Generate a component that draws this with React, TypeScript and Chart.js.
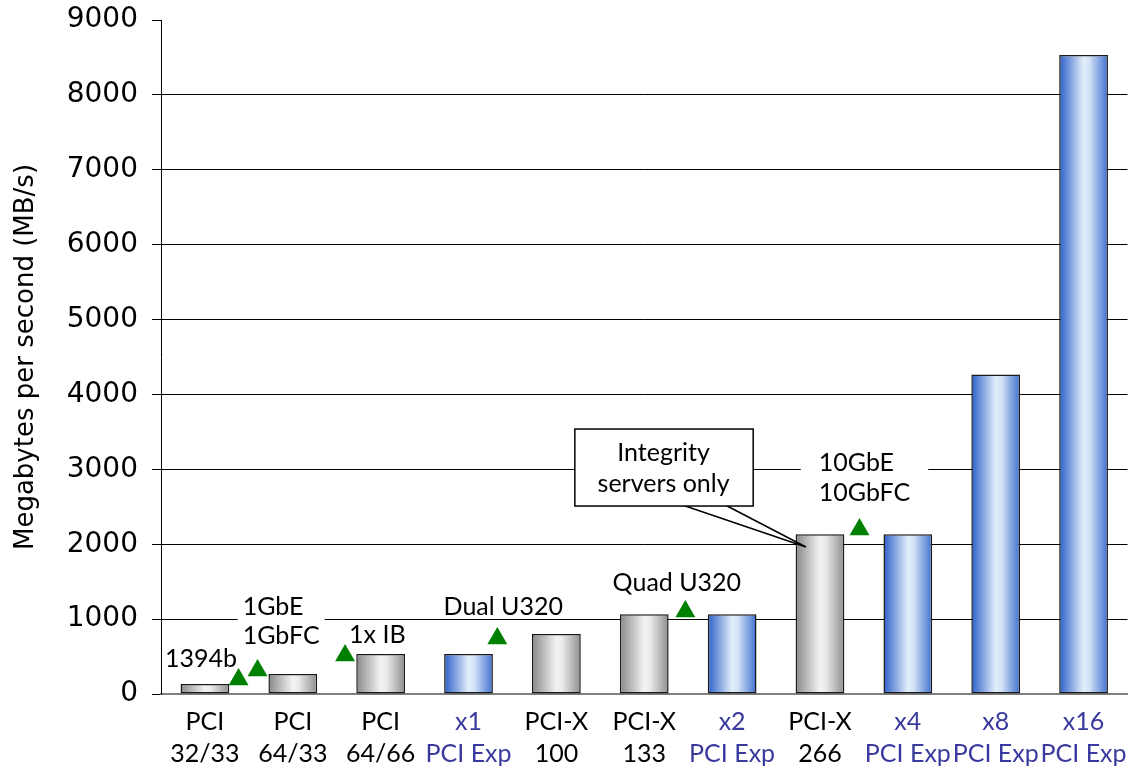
import { useEffect, useRef } from 'react';
import { Chart, registerables } from 'chart.js';

Chart.register(...registerables);

// ---- data ----
const categories: string[][] = [
  ['PCI', '32/33'], ['PCI', '64/33'], ['PCI', '64/66'], ['x1', 'PCI Exp'],
  ['PCI-X', '100'], ['PCI-X', '133'], ['x2', 'PCI Exp'], ['PCI-X', '266'],
  ['x4', 'PCI Exp'], ['x8', 'PCI Exp'], ['x16', 'PCI Exp'],
];
const bandwidth = [133, 266, 533, 533, 800, 1066, 1066, 2133, 2133, 4266, 8533];
const busType = ['pci', 'pci', 'pci', 'pcie', 'pci', 'pci', 'pcie', 'pci', 'pcie', 'pcie', 'pcie'];
const yMin = 0;
const yMax = 9000;
const yStep = 1000;
const yTitle = 'Megabytes per second (MB/s)';

// device requirement markers (x in category units, y in MB/s)
const markerX = [0.383, 0.599, 1.595, 3.328, 5.468, 7.45];
const markerY = [194, 314, 514, 741, 1101, 2196];

// device labels
const labelText = [['1394b'], ['1GbE', '1GbFC'], ['1x IB'], ['Dual U320'], ['Quad U320'], ['10GbE', '10GbFC']];
const labelX = [-0.455, 0.429, 1.64, 2.716, 4.64, 6.986];
const labelY = [[467], [1162, 774], [788], [1162], [1482], [3084, 2684]];
const labelBgPad = [0, 5, 0, 0, 0, 18];

// callout
const calloutText = ['Integrity', 'servers only'];
const calloutBoxX = [4.21, 6.24];
const calloutBoxY = [3538, 2510];
const calloutTextX = 5.22;
const calloutTextY = [3218, 2804];
const calloutBaseX = [5.4, 5.9];
const calloutTip = [6.84, 1963];

// ---- styles ----
const FONT_FAMILY = 'Lato, "Noto Sans", sans-serif';
const WIDE_FONT = '"DejaVu Sans", Lato, sans-serif';
const BLUE_TEXT = '#3a3a9e';
const BAR_PCT = 0.555;

function barFill(c: any) {
  const chart = c.chart;
  const xs = chart.scales?.x;
  const type = busType[c.dataIndex];
  const fallback = type === 'pcie' ? '#8fb0e6' : '#cccccc';
  if (!xs || c.type !== 'data') return fallback;
  const cx = xs.getPixelForValue(c.dataIndex);
  const w = (xs.getPixelForValue(1) - xs.getPixelForValue(0)) * BAR_PCT;
  if (!isFinite(cx) || !isFinite(w) || w <= 0) return fallback;
  const g = chart.ctx.createLinearGradient(cx - w / 2, 0, cx + w / 2, 0);
  if (type === 'pcie') {
    g.addColorStop(0, '#2b5fc8');
    g.addColorStop(0.5, '#e3eefa');
    g.addColorStop(0.62, '#d3e2f6');
    g.addColorStop(1, '#3f70cf');
  } else {
    g.addColorStop(0, '#888888');
    g.addColorStop(0.5, '#f3f3f3');
    g.addColorStop(0.62, '#eaeaea');
    g.addColorStop(1, '#8e8e8e');
  }
  return g;
}

const annotationPlugin = {
  id: 'annotations',
  beforeDatasetsDraw(chart: any) {
    const { ctx, scales } = chart;
    const xs = scales.x, ys = scales.y;
    ctx.save();
    ctx.font = `25px ${FONT_FAMILY}`;
    labelText.forEach((lines, i) => {
      const pad = labelBgPad[i];
      if (!pad) return;
      const left = xs.getPixelForValue(labelX[i]);
      const w = Math.max(...lines.map((t) => ctx.measureText(t).width));
      const top = ys.getPixelForValue(labelY[i][0]) - 16;
      const bottom = ys.getPixelForValue(labelY[i][lines.length - 1]) + 16;
      ctx.fillStyle = '#ffffff';
      ctx.fillRect(left - pad, top, w + pad * 2, bottom - top);
    });
    ctx.restore();
  },
  afterDatasetsDraw(chart: any) {
    const { ctx, scales } = chart;
    const xs = scales.x, ys = scales.y;
    ctx.save();
    ctx.font = `25px ${FONT_FAMILY}`;
    ctx.fillStyle = '#000';
    ctx.textBaseline = 'middle';
    ctx.textAlign = 'left';
    labelText.forEach((lines, i) => {
      const left = xs.getPixelForValue(labelX[i]);
      lines.forEach((t, j) => ctx.fillText(t, left, ys.getPixelForValue(labelY[i][j])));
    });

    // callout pointer
    const b0 = xs.getPixelForValue(calloutBaseX[0]);
    const b1 = xs.getPixelForValue(calloutBaseX[1]);
    const by = ys.getPixelForValue(calloutBoxY[1]) - 2;
    const tx = xs.getPixelForValue(calloutTip[0]);
    const ty = ys.getPixelForValue(calloutTip[1]);
    ctx.beginPath();
    ctx.moveTo(b0, by);
    ctx.lineTo(tx, ty);
    ctx.lineTo(b1, by);
    ctx.closePath();
    ctx.fillStyle = '#ffffff';
    ctx.fill();
    ctx.beginPath();
    ctx.moveTo(b0, by);
    ctx.lineTo(tx, ty);
    ctx.lineTo(b1, by);
    ctx.strokeStyle = '#000';
    ctx.lineWidth = 1.5;
    ctx.stroke();

    // callout box
    const x0 = xs.getPixelForValue(calloutBoxX[0]);
    const x1 = xs.getPixelForValue(calloutBoxX[1]);
    const y0 = ys.getPixelForValue(calloutBoxY[0]);
    const y1 = ys.getPixelForValue(calloutBoxY[1]);
    ctx.fillStyle = '#ffffff';
    ctx.fillRect(x0, y0, x1 - x0, y1 - y0);
    ctx.lineWidth = 1.5;
    ctx.strokeRect(x0, y0, x1 - x0, y1 - y0);
    ctx.fillStyle = '#000';
    ctx.textAlign = 'center';
    const cx = xs.getPixelForValue(calloutTextX);
    calloutText.forEach((t, j) => ctx.fillText(t, cx, ys.getPixelForValue(calloutTextY[j])));
    ctx.restore();
  },
};

export default function App() {
  const ref = useRef<HTMLCanvasElement>(null);
  useEffect(() => {
    if (!ref.current) return;
    const chart = new Chart(ref.current, {
      type: 'bar',
      data: {
        labels: categories,
        datasets: [
          {
            type: 'bar',
            data: bandwidth,
            backgroundColor: barFill,
            borderColor: '#1a1a1a',
            borderWidth: 1.5,
            borderSkipped: false,
            barPercentage: BAR_PCT,
            categoryPercentage: 1,
            grouped: false,
            order: 2,
          } as any,
          {
            type: 'scatter',
            xAxisID: 'xm',
            data: markerX.map((x, i) => ({ x, y: markerY[i] })),
            pointStyle: 'triangle',
            radius: 11.5,
            backgroundColor: '#008000',
            borderColor: '#008000',
            borderWidth: 0,
            grouped: false,
            order: 1,
          } as any,
        ],
      },
      options: {
        animation: false,
        responsive: false,
        devicePixelRatio: 1,
        layout: { padding: { left: 0, top: 20, right: 7, bottom: 0 } },
        plugins: { legend: { display: false }, tooltip: { enabled: false } },
        scales: {
          x: {
            type: 'category',
            offset: true,
            grid: { display: false, drawTicks: false },
            border: { display: true, color: '#808080', width: 2 },
            ticks: {
              autoSkip: false,
              maxRotation: 0,
              padding: 12,
              font: { family: FONT_FAMILY, size: 25, lineHeight: 1.28 },
              color: (c: any) => (busType[c.index] === 'pcie' ? BLUE_TEXT : '#000'),
            },
            afterFit: (s: any) => { s.height = 78; s.paddingLeft = 0; s.paddingRight = 0; },
          },
          xm: {
            type: 'linear',
            display: false,
            offset: false,
            bounds: 'ticks',
            grace: 0,
            min: -0.5,
            max: categories.length - 0.5,
          },
          y: {
            min: yMin,
            max: yMax,
            ticks: {
              stepSize: yStep,
              padding: 14,
              color: '#000',
              font: { family: WIDE_FONT, size: 28 },
              callback: (v: any) => String(v),
            },
            grid: {
              color: (c: any) => (c.tick && (c.tick.value === yMax || c.tick.value === yMin) ? 'rgba(0,0,0,0)' : '#000'),
              tickColor: '#000',
              tickLength: 9,
              lineWidth: 1,
            },
            border: { display: true, color: '#000', width: 1 },
            title: {
              display: true,
              text: yTitle,
              color: '#000',
              font: { family: WIDE_FONT, size: 26 },
              padding: { top: 11, bottom: 0 },
            },
            afterFit: (s: any) => { s.width = 161; s.paddingTop = 0; s.paddingBottom = 0; },
          },
        },
      },
      plugins: [annotationPlugin],
    });
    return () => chart.destroy();
  }, []);
  return (
    <canvas
      ref={ref}
      width={1139}
      height={772}
      style={{ position: 'fixed', left: 0, top: 0, width: 1139, height: 772, display: 'block', background: '#fff' }}
    />
  );
}
